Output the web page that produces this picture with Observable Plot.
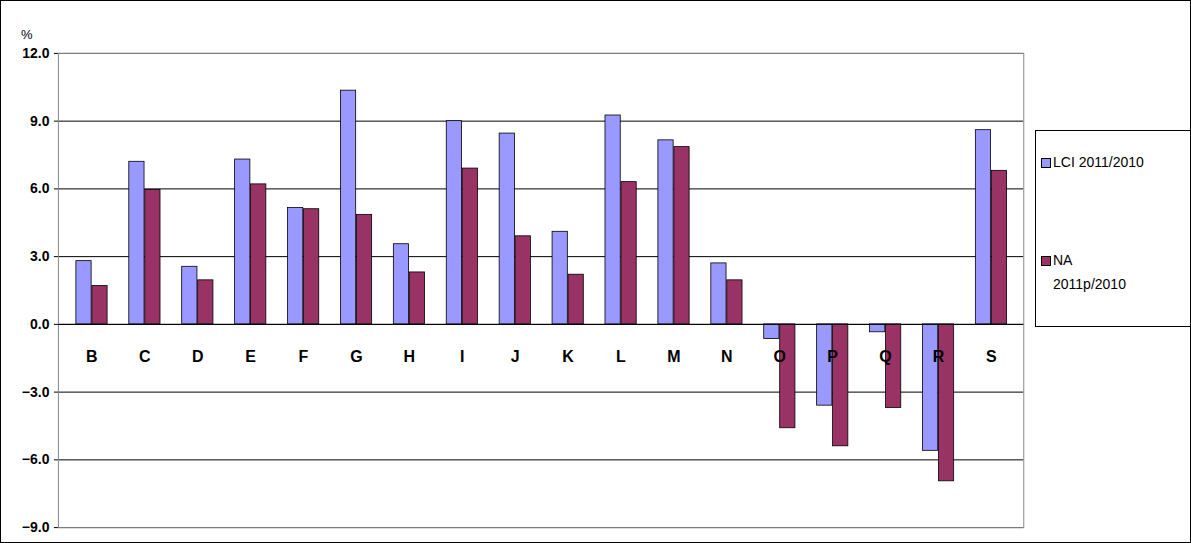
<!DOCTYPE html>
<html><head><meta charset="utf-8">
<script src="https://cdn.jsdelivr.net/npm/d3@7"></script>
<script src="https://cdn.jsdelivr.net/npm/@observablehq/plot@0.6"></script>
<style>
body{margin:0;font-family:"Liberation Sans",Arial,sans-serif;}
#wrap{position:relative;width:1189px;height:541px;border:1px solid #000;overflow:hidden;background:#fff}
#wrap svg{position:absolute;left:-1px;top:-1px}
#pct{position:absolute;left:20px;top:26px;font-size:13px}
#legend{position:absolute;left:1034px;top:129px;width:170px;height:195px;border:1px solid #000;font-size:14px;background:#fff}
.sw{position:absolute;width:8px;height:8px;border:1px solid #000}
</style></head><body>
<div id="wrap"><div id="myplot"></div>
<div id="pct">%</div>
<div id="legend">
 <div class="sw" style="left:5px;top:27px;background:#9999ff"></div>
 <div style="position:absolute;left:17px;top:23px">LCI 2011/2010</div>
 <div class="sw" style="left:5px;top:125px;background:#993366"></div>
 <div style="position:absolute;left:17px;top:121px">NA</div>
 <div style="position:absolute;left:17px;top:145px">2011p/2010</div>
</div></div>
<script>
const categories = ["B","C","D","E","F","G","H","I","J","K","L","M","N","O","P","Q","R","S"];
const lci = [2.8,7.2,2.55,7.3,5.15,10.35,3.55,9.0,8.45,4.1,9.25,8.15,2.7,-0.65,-3.6,-0.35,-5.6,8.6];
const na = [1.7,5.95,1.95,6.2,5.1,4.85,2.3,6.9,3.9,2.2,6.3,7.85,1.95,-4.6,-5.4,-3.7,-6.95,6.8];
const yTicks = [-9,-6,-3,0,3,6,9,12];

const rows = categories.map((c, i) => ({cat: c, lci: lci[i], na: na[i]}));
const bw = (1191 - 58 - 166) / 18;

const plot = Plot.plot({
  width: 1191, height: 543,
  marginLeft: 58, marginRight: 166, marginTop: 53, marginBottom: 15,
  style: {fontFamily: "Liberation Sans, Arial, sans-serif", overflow: "visible"},
  x: {domain: categories, padding: 0, axis: null},
  y: {domain: [-9, 12], label: null},
  marks: [
    Plot.ruleY(yTicks, {stroke: "#000"}),
    Plot.frame({stroke: "#888"}),
    Plot.barY(rows, {x: "cat", y: "lci", fill: "#9999ff", stroke: "#000", strokeWidth: 0.8, insetLeft: 11, insetRight: bw - 27}),
    Plot.barY(rows, {x: "cat", y: "na", fill: "#993366", stroke: "#000", strokeWidth: 0.8, insetLeft: 27, insetRight: bw - 43}),
    Plot.ruleY([0], {stroke: "#000"}),
    Plot.text(categories, {x: d => d, y: 0, dy: 33, text: d => d, fontWeight: "bold", fontSize: 16, fill: "#000"}),
    Plot.axisY({ticks: yTicks, tickFormat: d3.format(".1f"), fontWeight: "bold", fontSize: 14, tickSize: 4, label: null})
  ]
});
document.querySelector("#myplot").append(plot);
</script></body></html>
